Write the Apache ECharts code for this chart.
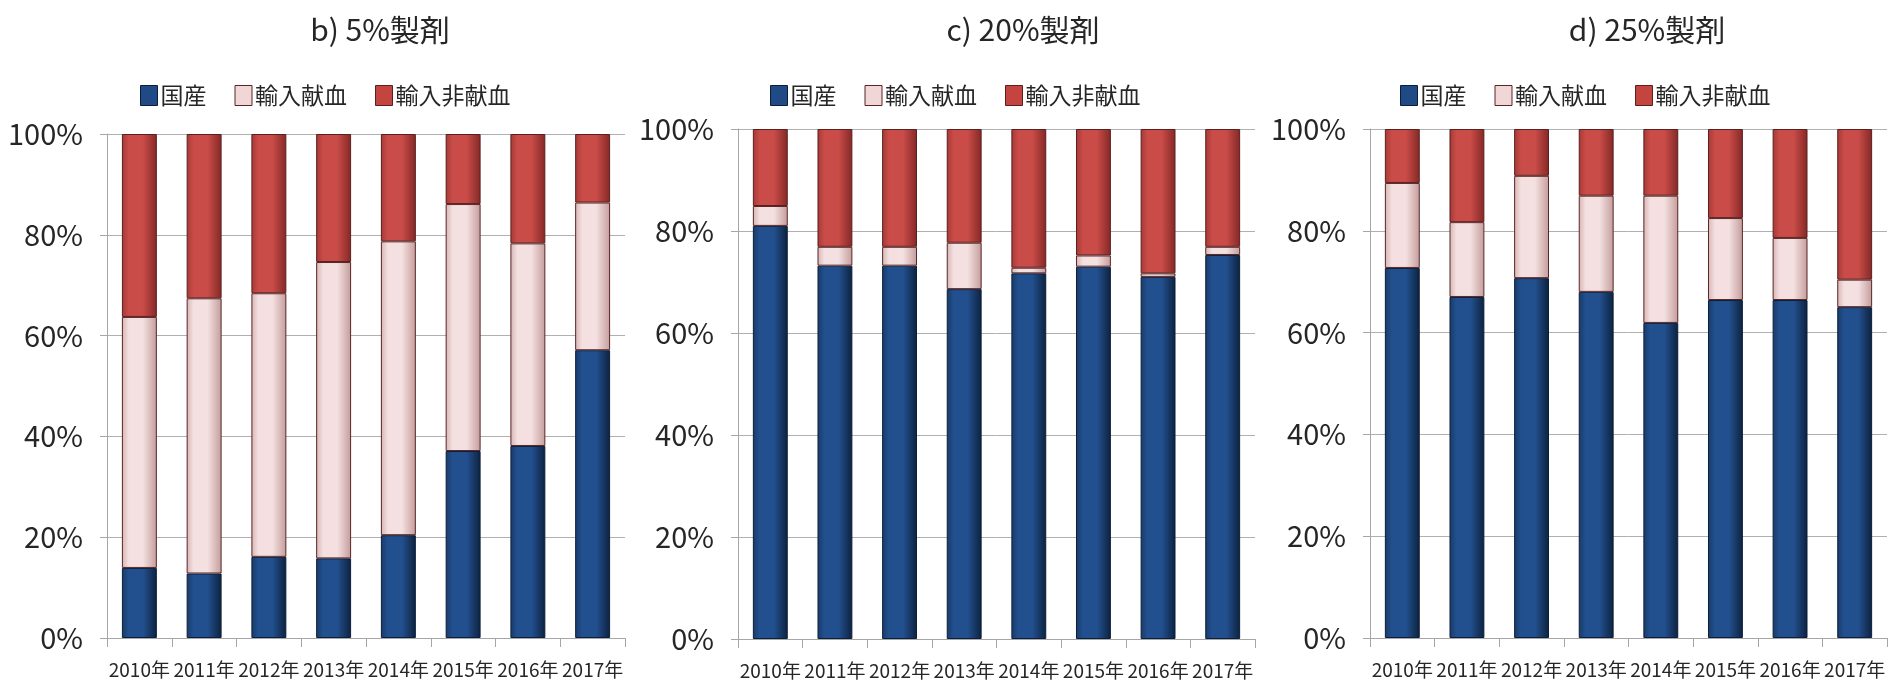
<!DOCTYPE html>
<html>
<head>
<meta charset="utf-8">
<script src="https://cdn.jsdelivr.net/npm/echarts@6/dist/echarts.min.js"></script>
<style>
html,body{margin:0;padding:0;background:#fff;}
#chart{width:1903px;height:686px;}
</style>
</head>
<body>
<div id="chart"></div>
<script>
// ---- data ----
const years = ['2010年','2011年','2012年','2013年','2014年','2015年','2016年','2017年'];
const seriesNames = ['国産','輸入献血','輸入非献血'];
const panelTitles = ['b) 5%製剤','c) 20%製剤','d) 25%製剤'];
const yTicks = [0, 20, 40, 60, 80, 100];

// b) 5%
const b_domestic      = [13.9, 12.8, 16.1, 15.8, 20.4, 37.1, 38.1, 57.1];
const b_importDonated = [49.8, 54.6, 52.3, 58.8, 58.3, 49.0, 40.2, 29.3];
const b_importPaid    = [36.3, 32.6, 31.6, 25.4, 21.3, 13.9, 21.7, 13.6];
// c) 20%
const c_domestic      = [81.0, 73.2, 73.2, 68.6, 71.7, 73.0, 71.0, 75.3];
const c_importDonated = [ 3.9,  3.7,  3.7,  9.1,  1.1,  2.2,  0.7,  1.6];
const c_importPaid    = [15.1, 23.1, 23.1, 22.3, 27.2, 24.8, 28.3, 23.1];
// d) 25%
const d_domestic      = [72.7, 67.0, 70.7, 68.0, 61.9, 66.4, 66.4, 65.0];
const d_importDonated = [16.7, 14.7, 20.1, 18.9, 25.0, 16.1, 12.2,  5.4];
const d_importPaid    = [10.6, 18.3,  9.2, 13.1, 13.1, 17.5, 21.4, 29.6];

const panels = [
  [b_domestic, b_importDonated, b_importPaid],
  [c_domestic, c_importDonated, c_importPaid],
  [d_domestic, d_importDonated, d_importPaid]
];

// ---- layout / style ----
const grids = [
  {left:107, width:518, top:134, height:504},
  {left:738, width:517, top:129, height:510},
  {left:1370, width:517, top:129, height:509}
];
const titleX = [375, 1018, 1642];
const legendX = [135, 765, 1395];
const FONT = '"Noto Sans CJK JP","Noto Sans",sans-serif';

function hgrad(edgeL, mid, edgeR){
  return {type:'linear',x:0,y:0,x2:1,y2:0,colorStops:[
    {offset:0,color:edgeL},{offset:0.2,color:mid},{offset:0.6,color:mid},{offset:1,color:edgeR}
  ]};
}
const fills = [
  hgrad('#193a68','#22508f','#0d223f'),
  hgrad('#d6b4b4','#f4e0e0','#c49c9c'),
  hgrad('#a53936','#c94c48','#842826')
];
const borders = ['#0c1f3a','#5a2525','#5a2020'];
const legendColors = ['#1f4a86','#f0d6d6','#c4443f'];

const option = {
  animation:false,
  backgroundColor:'#fff',
  textStyle:{fontFamily:FONT},
  title: panelTitles.map((t,i)=>({
    text:t, left:titleX[i], top:10, textAlign:'center',
    textStyle:{fontFamily:FONT,fontSize:30,fontWeight:'normal',color:'#262626'}
  })),
  legend: panelTitles.map((t,i)=>({
    data: seriesNames.map((n,k)=>({name:n,itemStyle:{color:legendColors[k],borderColor:borders[k],borderWidth:1}})),
    left:legendX[i], top:79, itemWidth:17, itemHeight:20, itemGap:28,
    icon:'rect', selectedMode:false,
    textStyle:{fontFamily:FONT,fontSize:23,color:'#262626',padding:[0,0,0,-2]}
  })),
  grid: grids.map(g=>Object.assign({containLabel:false},g)),
  xAxis: grids.map((g,i)=>({
    type:'category', gridIndex:i, data:years,
    axisLine:{lineStyle:{color:'#a6a6a6',width:1}},
    axisTick:{show:true,length:9,lineStyle:{color:'#a6a6a6'}},
    axisLabel:{interval:0,fontFamily:FONT,fontSize:19,color:'#262626',margin:22}
  })),
  yAxis: grids.map((g,i)=>({
    type:'value', gridIndex:i, min:0, max:100, interval:20,
    axisLine:{show:true,lineStyle:{color:'#a6a6a6'}},
    axisTick:{show:true,length:7,lineStyle:{color:'#a6a6a6'}},
    splitLine:{show:true,lineStyle:{color:'#b0b0b0'}},
    axisLabel:{formatter:'{value}%',fontFamily:FONT,fontSize:29,color:'#262626',margin:24}
  })),
  series: []
};

panels.forEach((vals,i)=>{
  vals.forEach((arr,k)=>{
    option.series.push({
      type:'bar', name:seriesNames[k], xAxisIndex:i, yAxisIndex:i,
      stack:'p'+i, barWidth:'54%', data:arr,
      itemStyle:{color:fills[k],borderColor:borders[k],borderWidth:1},
      emphasis:{disabled:true}
    });
  });
});

const chart = echarts.init(document.getElementById('chart'),null,{renderer:'canvas'});
chart.setOption(option);
</script>
</body>
</html>
